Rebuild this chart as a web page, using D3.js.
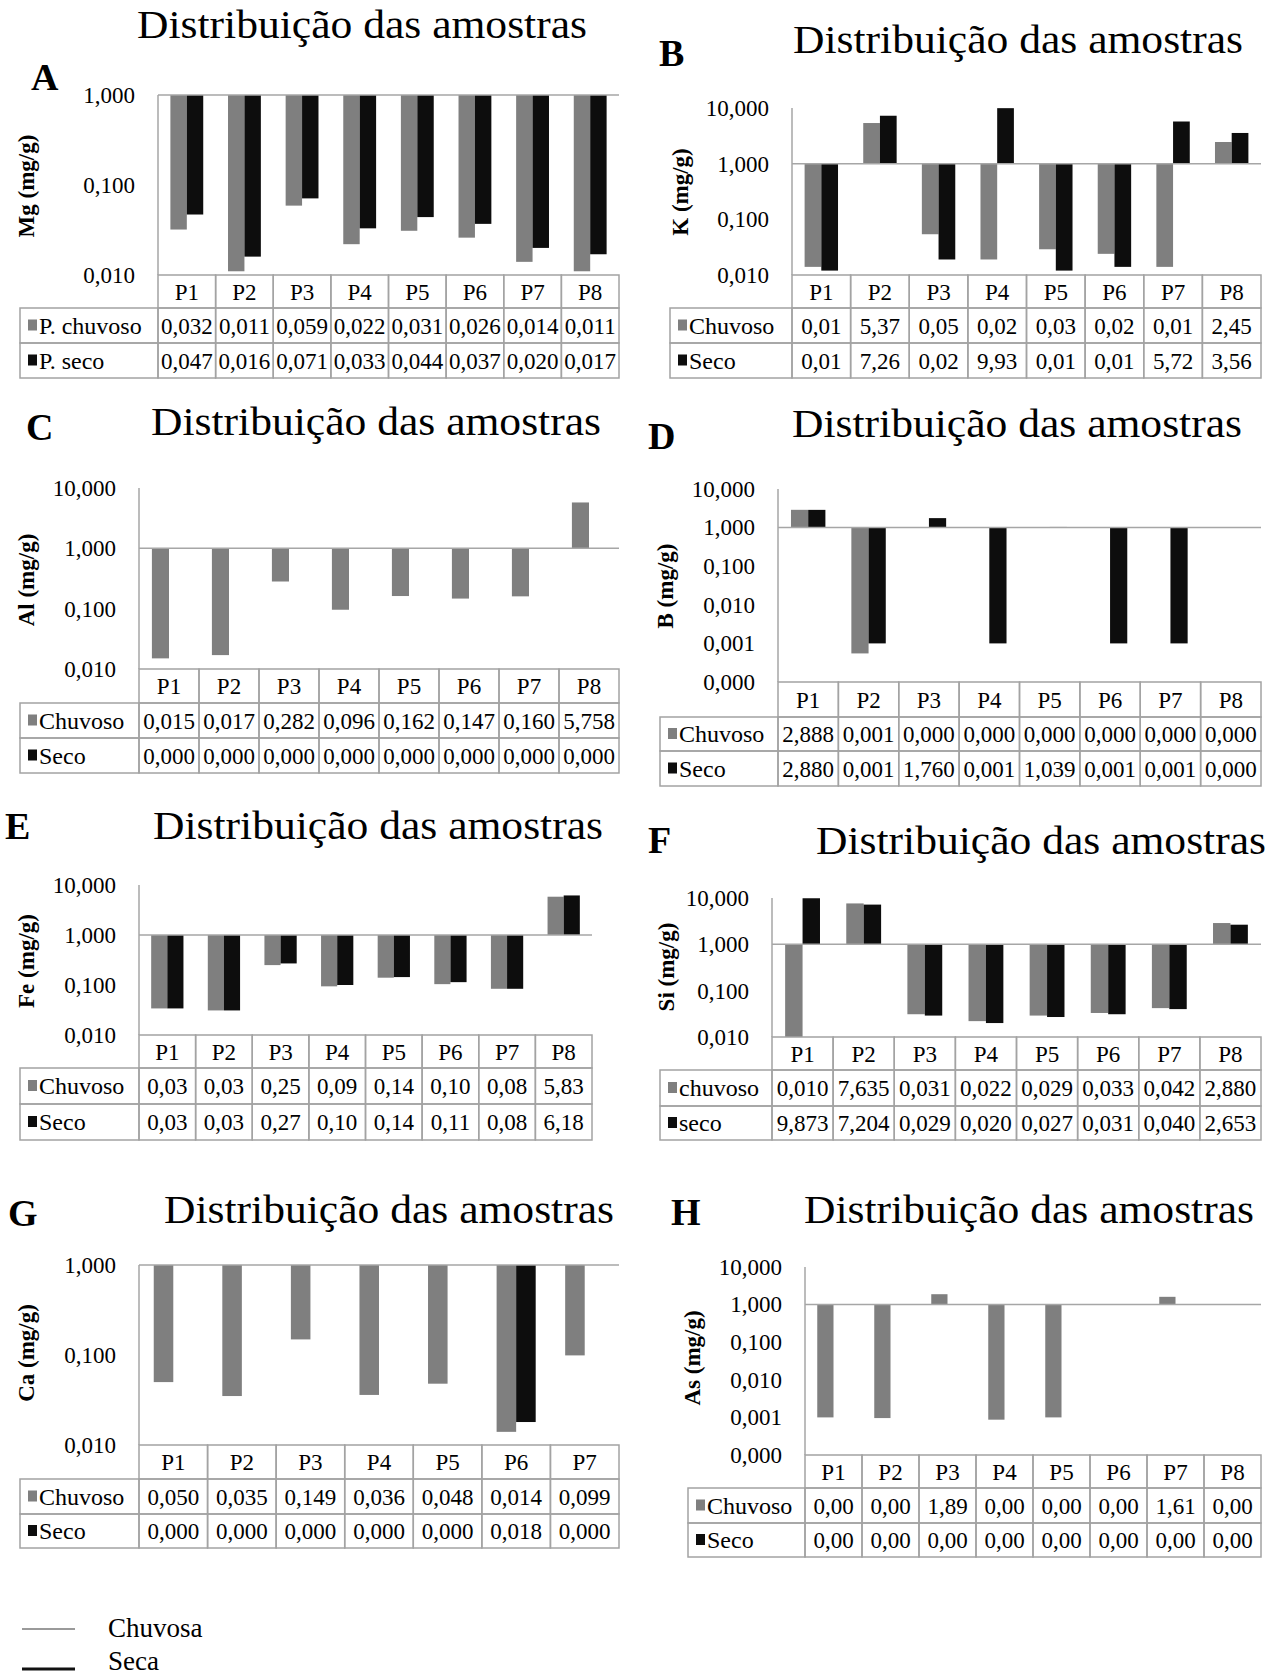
<!DOCTYPE html>
<html>
<head>
<meta charset="utf-8">
<script src="https://cdn.jsdelivr.net/npm/d3@7/dist/d3.min.js"></script>
<style>
  body { margin: 0; background: #fff; }
  svg { display: block; }
  text { font-family: "Liberation Serif", "Times New Roman", serif; fill: #000; }
</style>
</head>
<body>
<svg id="fig" width="1277" height="1678"></svg>
<script>
// ---- sampling points ----
const points8 = ["P1", "P2", "P3", "P4", "P5", "P6", "P7", "P8"];
const points7 = ["P1", "P2", "P3", "P4", "P5", "P6", "P7"];

// ---- concentrations (mg/g), rainy vs dry period ----
const mgChuvoso = [0.032, 0.011, 0.059, 0.022, 0.031, 0.026, 0.014, 0.011];
const mgSeco    = [0.047, 0.016, 0.071, 0.033, 0.044, 0.037, 0.020, 0.017];

const kChuvoso = [0.014, 5.37, 0.054, 0.019, 0.029, 0.024, 0.014, 2.45];
const kSeco    = [0.012, 7.26, 0.019, 9.93, 0.012, 0.014, 5.72, 3.56];

const alChuvoso = [0.015, 0.017, 0.282, 0.096, 0.162, 0.147, 0.160, 5.758];
const alSeco    = [0, 0, 0, 0, 0, 0, 0, 0];

const bChuvoso = [2.888, 0.00055, 0, 0, 0, 0, 0, 0];
const bSeco    = [2.880, 0.001, 1.760, 0.001, 1.039, 0.001, 0.001, 0];

const feChuvoso = [0.034, 0.031, 0.25, 0.094, 0.14, 0.104, 0.084, 5.83];
const feSeco    = [0.034, 0.031, 0.27, 0.10, 0.144, 0.114, 0.084, 6.18];

const siChuvoso = [0.010, 7.635, 0.031, 0.022, 0.029, 0.033, 0.042, 2.880];
const siSeco    = [9.873, 7.204, 0.029, 0.020, 0.027, 0.031, 0.040, 2.653];

const caChuvoso = [0.050, 0.035, 0.149, 0.036, 0.048, 0.014, 0.099];
const caSeco    = [0, 0, 0, 0, 0, 0.018, 0];

const asChuvoso = [0.0010, 0.00096, 1.89, 0.00087, 0.0010, 0, 1.61, 0];
const asSeco    = [0, 0, 0, 0, 0, 0, 0, 0];

// ---- log-axis tick values ----
const ticks2 = [0.01, 0.1, 1];
const ticks3 = [0.01, 0.1, 1, 10];
const ticks5 = [0.0001, 0.001, 0.01, 0.1, 1, 10];

// ---- text ----
const titleText = "Distribuição das amostras";
const legendNames = ["Chuvosa", "Seca"];

// ---- style ----
const GRAY = "#7f7f7f";
const BLACK = "#0d0d0d";
const GRID = "#a6a6a6";
const BORDER = "#a3a3a3";
const FS = 23;

const pt = d3.formatLocale({ decimal: ",", thousands: ".", grouping: [3], currency: ["R$", ""] });
const tickFmt = pt.format(".3f");

const svg = d3.select("#fig");

const panels = [
  { letter: "A", lx: 31, ly: 90, tx: 137, ty: 38, left: 158, right: 619, top: 95, bottom: 275,
    domain: [0.01, 1], ticks: ticks2, label: "Mg (mg/g)", acx: 26, acy: 186,
    rows: [308, 343, 378], legLeft: 20, cats: points8, rainy: mgChuvoso, dry: mgSeco,
    names: ["P. chuvoso", "P. seco"], dec: 3 },
  { letter: "B", lx: 659, ly: 66, tx: 793, ty: 53, left: 792, right: 1261, top: 108, bottom: 275,
    domain: [0.01, 10], ticks: ticks3, label: "K (mg/g)", acx: 680, acy: 192,
    rows: [308, 343, 378], legLeft: 670, cats: points8, rainy: kChuvoso, dry: kSeco,
    names: ["Chuvoso", "Seco"], dec: 2 },
  { letter: "C", lx: 26, ly: 440, tx: 151, ty: 435, left: 139, right: 619, top: 488, bottom: 669,
    domain: [0.01, 10], ticks: ticks3, label: "Al (mg/g)", acx: 26, acy: 580,
    rows: [703, 738, 773], legLeft: 20, cats: points8, rainy: alChuvoso, dry: alSeco,
    names: ["Chuvoso", "Seco"], dec: 3 },
  { letter: "D", lx: 648, ly: 449, tx: 792, ty: 437, left: 778, right: 1261, top: 489, bottom: 682,
    domain: [0.0001, 10], ticks: ticks5, label: "B (mg/g)", acx: 665, acy: 586,
    rows: [717, 751, 786], legLeft: 660, cats: points8, rainy: bChuvoso, dry: bSeco,
    names: ["Chuvoso", "Seco"], dec: 3 },
  { letter: "E", lx: 5, ly: 839, tx: 153, ty: 839, left: 139, right: 592, top: 885, bottom: 1035,
    domain: [0.01, 10], ticks: ticks3, label: "Fe (mg/g)", acx: 26, acy: 961,
    rows: [1068, 1104, 1140], legLeft: 20, cats: points8, rainy: feChuvoso, dry: feSeco,
    names: ["Chuvoso", "Seco"], dec: 2 },
  { letter: "F", lx: 648, ly: 853, tx: 816, ty: 854, left: 772, right: 1261, top: 898, bottom: 1037,
    domain: [0.01, 10], ticks: ticks3, label: "Si (mg/g)", acx: 666, acy: 967,
    rows: [1070, 1106, 1140], legLeft: 660, cats: points8, rainy: siChuvoso, dry: siSeco,
    names: ["chuvoso", "seco"], dec: 3 },
  { letter: "G", lx: 8, ly: 1226, tx: 164, ty: 1223, left: 139, right: 619, top: 1265, bottom: 1445,
    domain: [0.01, 1], ticks: ticks2, label: "Ca (mg/g)", acx: 26, acy: 1353,
    rows: [1479, 1514, 1548], legLeft: 20, cats: points7, rainy: caChuvoso, dry: caSeco,
    names: ["Chuvoso", "Seco"], dec: 3 },
  { letter: "H", lx: 671, ly: 1225, tx: 804, ty: 1223, left: 805, right: 1261, top: 1267, bottom: 1455,
    domain: [0.0001, 10], ticks: ticks5, label: "As (mg/g)", acx: 692, acy: 1358,
    rows: [1488, 1523, 1557], legLeft: 688, cats: points8, rainy: asChuvoso, dry: asSeco,
    names: ["Chuvoso", "Seco"], dec: 2 }
];

function drawPanel(p) {
  const g = svg.append("g");
  const x = d3.scaleBand().domain(p.cats).range([p.left, p.right]);
  const y = d3.scaleLog().domain(p.domain).range([p.bottom, p.top]);
  const groupW = x.bandwidth() * 0.57;
  const sub = d3.scaleBand().domain([0, 1]).range([0, groupW]);
  const off = (x.bandwidth() - groupW) / 2;
  const base = y(1);

  // panel letter and title
  g.append("text").attr("x", p.lx).attr("y", p.ly)
    .attr("font-size", 38).attr("font-weight", "bold").text(p.letter);
  g.append("text").attr("x", p.tx).attr("y", p.ty)
    .attr("font-size", 40).attr("textLength", 450).attr("lengthAdjust", "spacingAndGlyphs")
    .text(titleText);

  // bars hang from the 1,000 line
  const series = [
    { values: p.rainy, color: GRAY },
    { values: p.dry, color: BLACK }
  ];
  series.forEach((s, si) => {
    g.append("g").selectAll("rect")
      .data(p.cats.map((c, i) => ({ c, v: s.values[i] })).filter(d => d.v > 0))
      .join("rect")
      .attr("x", d => x(d.c) + off + sub(si))
      .attr("width", sub.bandwidth())
      .attr("y", d => Math.min(y(d.v), base))
      .attr("height", d => Math.abs(y(d.v) - base))
      .attr("fill", s.color);
  });

  // axis lines
  g.append("line").attr("x1", p.left).attr("x2", p.right).attr("y1", base).attr("y2", base)
    .attr("stroke", GRID).attr("stroke-width", 1.5);
  g.append("line").attr("x1", p.left).attr("x2", p.left).attr("y1", p.top).attr("y2", p.bottom)
    .attr("stroke", GRID).attr("stroke-width", 1.5);

  // y tick labels
  const ax = g.append("g").attr("transform", `translate(${p.left},0)`)
    .call(d3.axisLeft(y).tickValues(p.ticks).tickFormat(tickFmt).tickSize(0).tickPadding(23));
  ax.select(".domain").remove();
  ax.attr("font-family", null).attr("font-size", null);
  ax.selectAll("text").attr("font-size", FS).attr("fill", "#000");

  // y axis title
  g.append("text")
    .attr("transform", `translate(${p.acx},${p.acy}) rotate(-90)`)
    .attr("text-anchor", "middle").attr("dy", "0.35em")
    .attr("font-size", 23).attr("font-weight", "bold").text(p.label);

  // data table
  const [hBot, r1Bot, r2Bot] = p.rows;
  const tb = g.append("g");
  p.cats.forEach(c => {
    tb.append("rect").attr("x", x(c)).attr("y", p.bottom).attr("width", x.bandwidth())
      .attr("height", hBot - p.bottom).attr("fill", "none").attr("stroke", BORDER).attr("stroke-width", 1.5);
    tb.append("text").attr("x", x(c) + x.bandwidth() / 2).attr("y", (p.bottom + hBot) / 2)
      .attr("dy", "0.35em").attr("text-anchor", "middle").attr("font-size", FS).text(c);
  });
  const fmt = pt.format(`.${p.dec}f`);
  const rowDefs = [
    { y0: hBot, y1: r1Bot, name: p.names[0], values: p.rainy, color: GRAY },
    { y0: r1Bot, y1: r2Bot, name: p.names[1], values: p.dry, color: BLACK }
  ];
  rowDefs.forEach(r => {
    const cy = (r.y0 + r.y1) / 2;
    tb.append("rect").attr("x", p.legLeft).attr("y", r.y0).attr("width", p.left - p.legLeft)
      .attr("height", r.y1 - r.y0).attr("fill", "none").attr("stroke", BORDER).attr("stroke-width", 1.5);
    tb.append("rect").attr("x", p.legLeft + 8).attr("y", cy - 6).attr("width", 9).attr("height", 11)
      .attr("fill", r.color);
    tb.append("text").attr("x", p.legLeft + 19).attr("y", cy).attr("dy", "0.35em")
      .attr("font-size", FS + 1).text(r.name);
    p.cats.forEach((c, i) => {
      tb.append("rect").attr("x", x(c)).attr("y", r.y0).attr("width", x.bandwidth())
        .attr("height", r.y1 - r.y0).attr("fill", "none").attr("stroke", BORDER).attr("stroke-width", 1.5);
      tb.append("text").attr("x", x(c) + x.bandwidth() / 2).attr("y", cy).attr("dy", "0.35em")
        .attr("text-anchor", "middle").attr("font-size", FS).text(fmt(r.values[i]));
    });
  });
}

panels.forEach(drawPanel);

// ---- season legend ----
const leg = svg.append("g");
const legStyle = [
  { color: "#9a9a9a", width: 2, y: 1629, base: 1637 },
  { color: "#111", width: 3, y: 1669, base: 1670 }
];
legendNames.forEach((name, i) => {
  const s = legStyle[i];
  leg.append("line").attr("x1", 22).attr("x2", 75).attr("y1", s.y).attr("y2", s.y)
    .attr("stroke", s.color).attr("stroke-width", s.width);
  leg.append("text").attr("x", 108).attr("y", s.base)
    .attr("font-size", 27).text(name);
});
</script>
</body>
</html>
